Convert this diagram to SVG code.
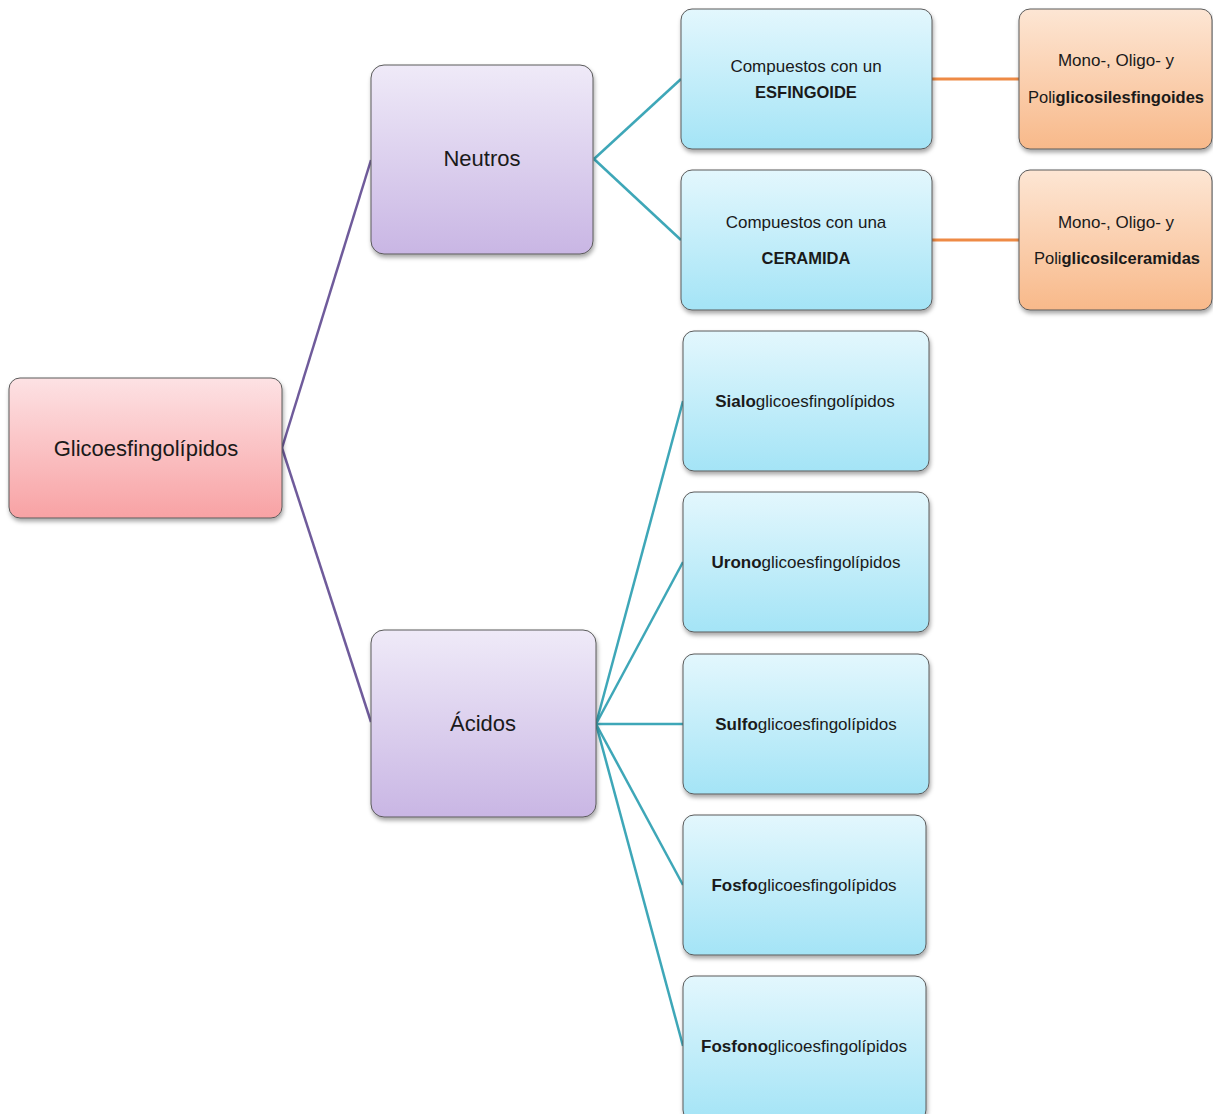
<svg xmlns="http://www.w3.org/2000/svg" width="1213" height="1114" viewBox="0 0 1213 1114">
<style>
text{font-family:"Liberation Sans",Arial,sans-serif;fill:#1a1a1a;text-anchor:middle;}
.b{font-weight:bold;}
.box{stroke:#5a5a5a;stroke-width:1;filter:url(#sh);}
.l1{font-size:22px;}
.l2{font-size:17px;}
.l3{font-size:16.5px;}
.cp{stroke:#6f5b9b;stroke-width:2.5;fill:none;}
.ct{stroke:#3ea7b8;stroke-width:2.5;fill:none;}
.co{stroke:#ee8a45;stroke-width:3;fill:none;}
</style>
<defs>
<linearGradient id="gPink" x1="0" y1="0" x2="0" y2="1"><stop offset="0" stop-color="#fde2e4"/><stop offset="1" stop-color="#f8a2a4"/></linearGradient>
<linearGradient id="gPurple" x1="0" y1="0" x2="0" y2="1"><stop offset="0" stop-color="#efeaf8"/><stop offset="1" stop-color="#c9b6e4"/></linearGradient>
<linearGradient id="gBlue" x1="0" y1="0" x2="0" y2="1"><stop offset="0" stop-color="#e3f7fd"/><stop offset="1" stop-color="#a4e4f6"/></linearGradient>
<linearGradient id="gOrange" x1="0" y1="0" x2="0" y2="1"><stop offset="0" stop-color="#fde6d4"/><stop offset="1" stop-color="#f8b98a"/></linearGradient>
<filter id="sh" x="-10%" y="-10%" width="120%" height="130%"><feDropShadow dx="1" dy="3" stdDeviation="2" flood-color="#000" flood-opacity="0.35"/></filter>
</defs>
<g id="connectors">
<path class="cp" d="M282 448 L371 160"/>
<path class="cp" d="M282 448 L371 722"/>
<path class="ct" d="M594 159 L681 79"/>
<path class="ct" d="M594 159 L681 240"/>
<path class="ct" d="M596 724 L683 401"/>
<path class="ct" d="M596 724 L683 562"/>
<path class="ct" d="M596 724 L683 724"/>
<path class="ct" d="M596 724 L683 885"/>
<path class="ct" d="M596 724 L683 1046"/>
<path class="co" d="M932 79 L1019 79"/>
<path class="co" d="M932 240 L1019 240"/>
</g>
<g id="n-glico">
<rect class="box" x="9" y="378" width="273" height="140" rx="11" fill="url(#gPink)"/>
<text class="l1" x="146" y="456">Glicoesfingolípidos</text>
</g>
<g id="n-neutros">
<rect class="box" x="371" y="65" width="222" height="189" rx="13" fill="url(#gPurple)"/>
<text class="l1" x="482" y="166">Neutros</text>
</g>
<g id="n-acidos">
<rect class="box" x="371" y="630" width="225" height="187" rx="13" fill="url(#gPurple)"/>
<text class="l1" x="483" y="731">Ácidos</text>
</g>
<g id="n-esfingoide">
<rect class="box" x="681" y="9" width="251" height="140" rx="11" fill="url(#gBlue)"/>
<text class="l2" x="806" y="72">Compuestos con un</text>
<text class="l3 b" x="806" y="98">ESFINGOIDE</text>
</g>
<g id="n-ceramida">
<rect class="box" x="681" y="170" width="251" height="140" rx="11" fill="url(#gBlue)"/>
<text class="l2" x="806" y="228">Compuestos con una</text>
<text class="l3 b" x="806" y="264">CERAMIDA</text>
</g>
<g id="n-poliesf">
<rect class="box" x="1019" y="9" width="193" height="140" rx="11" fill="url(#gOrange)"/>
<text class="l2" x="1116" y="66">Mono-, Oligo- y</text>
<text class="l3" x="1116" y="103">Poli<tspan class="b">glicosilesfingoides</tspan></text>
</g>
<g id="n-policer">
<rect class="box" x="1019" y="170" width="193" height="140" rx="11" fill="url(#gOrange)"/>
<text class="l2" x="1116" y="228">Mono-, Oligo- y</text>
<text class="l3" x="1117" y="264">Poli<tspan class="b">glicosilceramidas</tspan></text>
</g>
<g id="n-sialo">
<rect class="box" x="683" y="331" width="246" height="140" rx="11" fill="url(#gBlue)"/>
<text class="l2" x="805" y="407"><tspan class="b">Sialo</tspan>glicoesfingolípidos</text>
</g>
<g id="n-urono">
<rect class="box" x="683" y="492" width="246" height="140" rx="11" fill="url(#gBlue)"/>
<text class="l2" x="806" y="568"><tspan class="b">Urono</tspan>glicoesfingolípidos</text>
</g>
<g id="n-sulfo">
<rect class="box" x="683" y="654" width="246" height="140" rx="11" fill="url(#gBlue)"/>
<text class="l2" x="806" y="730"><tspan class="b">Sulfo</tspan>glicoesfingolípidos</text>
</g>
<g id="n-fosfo">
<rect class="box" x="683" y="815" width="243" height="140" rx="11" fill="url(#gBlue)"/>
<text class="l2" x="804" y="891"><tspan class="b">Fosfo</tspan>glicoesfingolípidos</text>
</g>
<g id="n-fosfono">
<rect class="box" x="683" y="976" width="243" height="145" rx="11" fill="url(#gBlue)"/>
<text class="l2" x="804" y="1052"><tspan class="b">Fosfono</tspan>glicoesfingolípidos</text>
</g>
</svg>
